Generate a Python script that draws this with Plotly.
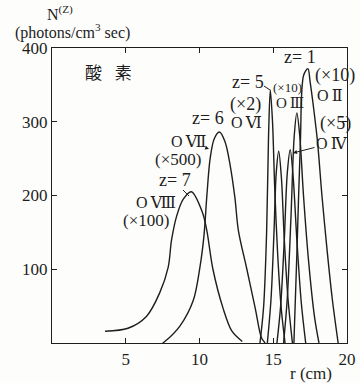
import plotly.graph_objects as go

# ---- data (r in cm, N in photons/cm^3 sec, scaled) ----
z7_r = [3.6, 5.15, 6.4, 7.3, 7.88, 8.1, 8.45, 8.9, 9.45, 10.2, 10.5, 10.9, 11.6, 12.2, 12.9]
z7_n = [16, 20, 36, 68, 103, 139, 172, 195, 205, 177, 152, 101, 47, 16, 2]

z6_r = [7.5, 7.65, 8.67, 9.58, 10.03, 10.3, 10.5, 10.72, 11.0, 11.35, 11.73, 12.07, 12.4, 12.64, 13.2, 13.78, 14.2, 14.45]
z6_n = [0, 2, 23, 58, 103, 145, 200, 250, 277, 286, 273, 242, 197, 152, 101, 47, 7, 0]

z5_r = [14.1, 14.35, 14.55, 14.68, 14.8, 14.95, 15.1, 15.3, 15.55, 15.8]
z5_n = [0, 50, 150, 280, 343, 300, 210, 120, 45, 0]

z4_r = [14.6, 14.85, 15.05, 15.2, 15.37, 15.55, 15.75, 16.0, 16.3]
z4_n = [0, 60, 150, 230, 260, 225, 140, 60, 0]

z3_r = [15.25, 15.5, 15.75, 15.95, 16.15, 16.35, 16.6, 16.9, 17.2]
z3_n = [0, 50, 140, 230, 262, 225, 140, 55, 0]

z2_r = [15.7, 15.95, 16.2, 16.42, 16.6, 16.8, 17.05, 17.4, 17.8, 18.1]
z2_n = [0, 60, 170, 280, 312, 280, 200, 110, 35, 0]

z1_r = [16.4, 16.6, 16.84, 17.06, 17.35, 17.5, 17.74, 18.0, 18.3, 18.65, 19.0, 19.4]
z1_n = [0, 120, 273, 363, 372, 354, 318, 273, 200, 126, 60, 0]

x_ticks = [5, 10, 15, 20]
y_ticks = [100, 200, 300, 400]

SERIF = "Liberation Serif, DejaVu Serif, Noto Sans CJK JP, serif"
INK = "#1e1e1e"
NB = "\u00a0"

W, H = 360, 383
L, R, T, B = 52, 13, 48, 40
PW, PH = W - L - R, H - T - B

fig = go.Figure()
for r, n in [(z7_r, z7_n), (z6_r, z6_n), (z5_r, z5_n), (z4_r, z4_n),
             (z3_r, z3_n), (z2_r, z2_n), (z1_r, z1_n)]:
    fig.add_trace(go.Scatter(x=r, y=n, mode="lines",
                             line=dict(color=INK, width=1.4, shape="spline", smoothing=0.9),
                             showlegend=False, hoverinfo="skip"))

# pixel -> paper helpers for label placement
def px2x(px):
    return (px - L) / PW

def py2y(py):
    return (H - B - py) / PH

def label(text, px, py, size=17, **kw):
    fig.add_annotation(x=px2x(px), y=py2y(py), xref="paper", yref="paper",
                       text=text, showarrow=False,
                       font=dict(family=SERIF, size=size, color=INK),
                       xanchor="center", yanchor="middle", **kw)

label("N<sup>(Z)</sup>", 60, 13, size=16)
label("(photons/cm<sup>3</sup>" + NB + "sec)", 72, 32, size=16)
label("酸" + NB + NB + NB + "素", 108, 73, size=17)
label("z=" + NB + "1", 300, 57, size=18)
label("(×10)", 335, 75, size=18)
label("O\u2009Ⅱ", 330, 95, size=16)
label("z=" + NB + "5", 248, 82, size=18)
label("(×10)", 287, 87, size=13)
label("O\u2009Ⅲ", 290, 103, size=15)
label("(×2)", 245, 105, size=18)
label("O\u2009Ⅵ", 246, 122, size=16)
label("z=" + NB + "6", 208, 118, size=18)
label("(×5)", 335, 123, size=18)
label("(×500)", 178, 159, size=17)
label("z=" + NB + "7", 175, 180, size=18)
label("O\u2009Ⅷ", 156, 202, size=16)
label("(×100)", 146, 220, size=17)
label("r" + NB + "(cm)", 311, 373, size=17)

# arrows / leaders
fig.add_annotation(x=px2x(293), y=py2y(153), xref="paper", yref="paper",
                   ax=39, ay=-10, text="O\u2009Ⅳ", showarrow=True,
                   arrowhead=2, arrowsize=0.8, arrowwidth=1, arrowcolor=INK,
                   font=dict(family=SERIF, size=16, color=INK))
fig.add_annotation(x=px2x(209), y=py2y(149), xref="paper", yref="paper",
                   ax=-21, ay=-8, text="O\u2009Ⅶ", showarrow=True,
                   arrowhead=2, arrowsize=0.8, arrowwidth=1, arrowcolor=INK,
                   font=dict(family=SERIF, size=16, color=INK))
for (x0, y0, x1, y1) in [(183, 190, 189, 196), (264, 86, 270, 90)]:
    fig.add_shape(type="line", xref="paper", yref="paper",
                  x0=px2x(x0), y0=py2y(y0), x1=px2x(x1), y1=py2y(y1),
                  line=dict(color=INK, width=1))

fig.update_xaxes(range=[0, 20], tickvals=x_ticks, ticks="inside", ticklen=5,
                 tickcolor=INK, showline=True, linecolor=INK, linewidth=1.3,
                 mirror="ticks", showgrid=False, zeroline=False, automargin=False,
                 tickfont=dict(family=SERIF, size=17, color=INK))
fig.update_yaxes(range=[0, 400], tickvals=y_ticks, ticks="inside", ticklen=5,
                 tickcolor=INK, showline=True, linecolor=INK, linewidth=1.3,
                 mirror="ticks", showgrid=False, zeroline=False, automargin=False,
                 tickfont=dict(family=SERIF, size=17, color=INK))

fig.update_layout(width=W, height=H, autosize=False,
                  margin=dict(l=L, r=R, t=T, b=B, pad=0),
                  paper_bgcolor="#fdfdfb", plot_bgcolor="#fdfdfb")

fig.write_html("out.html", config={"displayModeBar": False},
               post_script="document.body.style.margin='0';document.body.style.padding='0';")
